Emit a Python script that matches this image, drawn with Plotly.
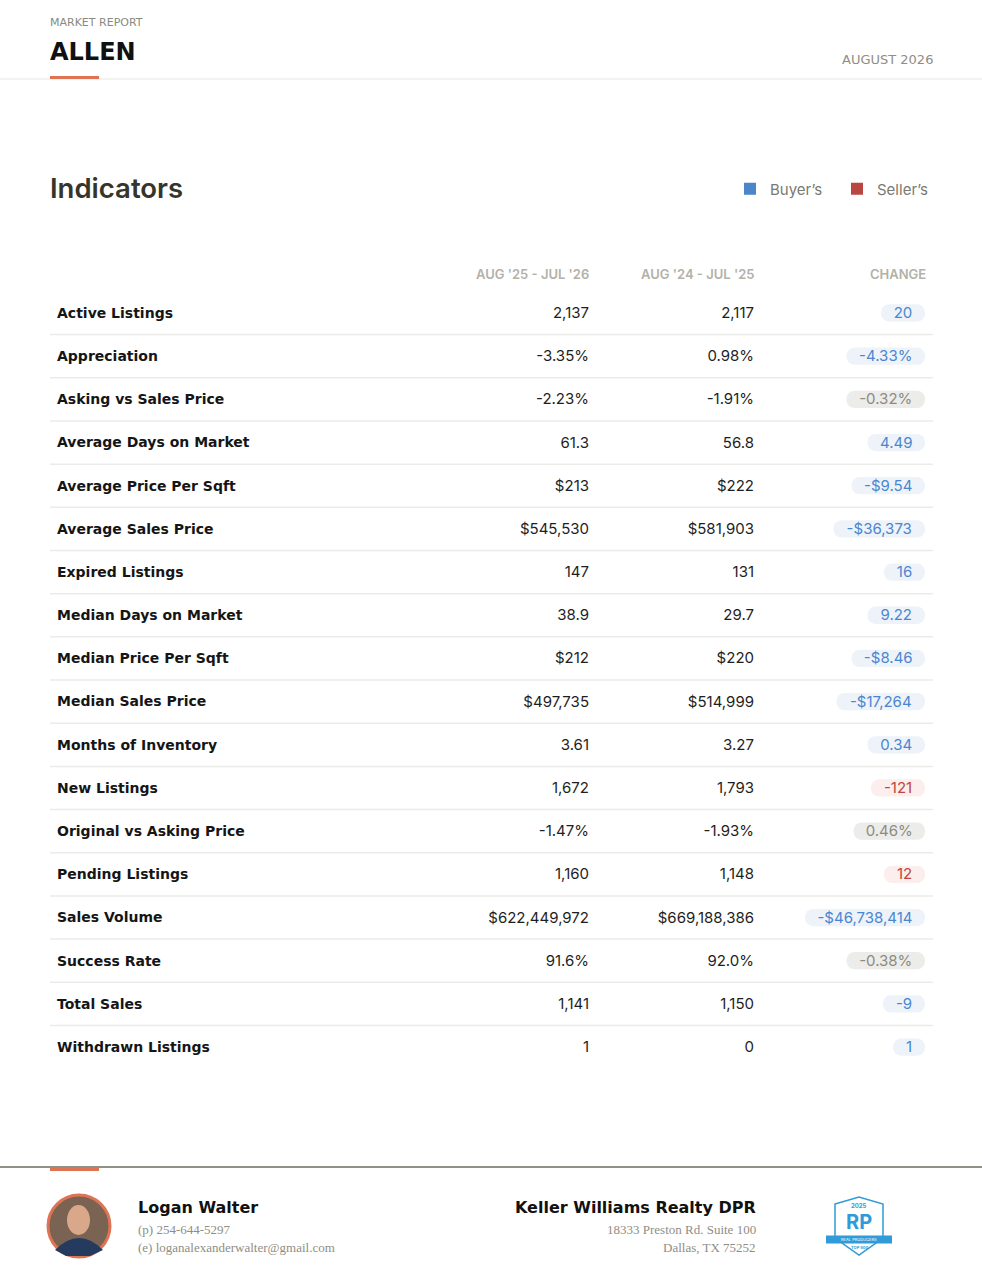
import plotly.graph_objects as go

# data
indicators = [
    "Active Listings", "Appreciation", "Asking vs Sales Price", "Average Days on Market",
    "Average Price Per Sqft", "Average Sales Price", "Expired Listings", "Median Days on Market",
    "Median Price Per Sqft", "Median Sales Price", "Months of Inventory", "New Listings",
    "Original vs Asking Price", "Pending Listings", "Sales Volume", "Success Rate",
    "Total Sales", "Withdrawn Listings",
]
current_period = ["2,137", "-3.35%", "-2.23%", "61.3", "$213", "$545,530", "147", "38.9", "$212",
                  "$497,735", "3.61", "1,672", "-1.47%", "1,160", "$622,449,972", "91.6%", "1,141", "1"]
prior_period = ["2,117", "0.98%", "-1.91%", "56.8", "$222", "$581,903", "131", "29.7", "$220",
                "$514,999", "3.27", "1,793", "-1.93%", "1,148", "$669,188,386", "92.0%", "1,150", "0"]
change = ["20", "-4.33%", "-0.32%", "4.49", "-$9.54", "-$36,373", "16", "9.22", "-$8.46",
          "-$17,264", "0.34", "-121", "0.46%", "12", "-$46,738,414", "-0.38%", "-9", "1"]
market = ["buyer", "buyer", "neutral", "buyer", "buyer", "buyer", "buyer", "buyer", "buyer",
          "buyer", "buyer", "seller", "neutral", "seller", "buyer", "neutral", "buyer", "buyer"]
column_titles = ["AUG '25 - JUL '26", "AUG '24 - JUL '25", "CHANGE"]

W, H = 982, 1268
ROW0, ROWH = 313, 43.18          # pixel centre of first row, row pitch
FONT = "Inter"
WIDE = "DejaVu Sans"
pill_bg = {"buyer": "#eef3fa", "seller": "#fbeeec", "neutral": "#ececea"}
pill_fg = {"buyer": "#4a86d0", "seller": "#c0463c", "neutral": "#8c8b80"}

# rough text width of the pill labels
cw = {"1": 6, "-": 7, "$": 9, ",": 4.5, ".": 4.5, "%": 14}
def text_w(s):
    return sum(cw.get(c, 9) for c in s)

pill_w = [text_w(c) + 26 for c in change]
pill_right = 925
rows = list(range(len(indicators)))


def px(x):
    return x / W


def py(y):
    return 1 - y / H


fig = go.Figure()

# row separators
sep_x, sep_y = [], []
for i in rows[:-1]:
    sep_x += [50, 933, None]
    sep_y += [i + 0.5, i + 0.5, None]
fig.add_trace(go.Scatter(x=sep_x, y=sep_y, mode="lines", line=dict(color="#ebebe7", width=1.5),
                         hoverinfo="skip", showlegend=False))

# change pills
fig.add_trace(go.Bar(
    y=rows, x=pill_w, base=[pill_right - w for w in pill_w], orientation="h", width=0.4,
    marker=dict(color=[pill_bg[m] for m in market], cornerradius="50%", line_width=0),
    hoverinfo="skip", showlegend=False,
))
fig.add_trace(go.Scatter(
    x=[pill_right - w / 2 for w in pill_w], y=[r + 0.03 for r in rows], mode="text", text=change,
    textposition="middle center",
    textfont=dict(family=FONT, size=15, color=[pill_fg[m] for m in market]),
    hoverinfo="skip", showlegend=False,
))

# labels and values
fig.add_trace(go.Scatter(
    x=[57] * len(rows), y=[r + 0.03 for r in rows], mode="text", text=indicators,
    textposition="middle right",
    textfont=dict(family=WIDE, size=14, color="#151515", weight="bold"),
    hoverinfo="skip", showlegend=False,
))
for col_x, vals in [(589, current_period), (754, prior_period)]:
    fig.add_trace(go.Scatter(
        x=[col_x] * len(rows), y=[r + 0.03 for r in rows], mode="text", text=vals,
        textposition="middle left",
        textfont=dict(family=FONT, size=15, color="#1e1e1e"),
        hoverinfo="skip", showlegend=False,
    ))

# legend entries
fig.add_trace(go.Scatter(x=[None], y=[None], mode="markers", name="Buyer’s",
                         marker=dict(symbol="square", size=16, color="#4a86c8")))
fig.add_trace(go.Scatter(x=[None], y=[None], mode="markers", name="Seller’s",
                         marker=dict(symbol="square", size=16, color="#b9473f")))

ann = []
def txt(x, y, s, size, color, anchor="left", family=FONT, weight="normal"):
    shift = {"left": -2, "right": 2, "center": 0}[anchor]
    ann.append(dict(x=px(x + shift), y=py(y), xref="paper", yref="paper", text=s, showarrow=False,
                    xanchor=anchor, yanchor="middle",
                    font=dict(family=family, size=size, color=color, weight=weight)))

# header
txt(50, 23, "MARKET REPORT", 11, "#8a8a80", family=WIDE)
txt(50, 52, "ALLEN", 24, "#111111", family=WIDE, weight="bold")
txt(933, 59, "AUGUST 2026", 13, "#8f8e84", anchor="right", family=WIDE)
txt(50, 188, "Indicators", 27.5, "#35352b", weight=600)
for x, s in zip([589, 754, 926], column_titles):
    txt(x, 274, s, 13, "#b3b1a8", anchor="right", weight=600)

# footer
SERIF = "Liberation Serif"
txt(138, 1207, "Logan Walter", 16, "#111111", family=WIDE, weight="bold")
txt(138, 1229, "(p) 254-644-5297", 13, "#8f8e84", family=SERIF)
txt(138, 1247, "(e) loganalexanderwalter@gmail.com", 13, "#8f8e84", family=SERIF)
txt(756, 1207, "Keller Williams Realty DPR", 16, "#111111", anchor="right", family=WIDE, weight="bold")
txt(756, 1229, "18333 Preston Rd. Suite 100", 13, "#8f8e84", anchor="right", family=SERIF)
txt(756, 1247, "Dallas, TX 75252", 13, "#8f8e84", anchor="right", family=SERIF)
txt(859, 1205, "2025", 6, "#2f9bd8", anchor="center", weight="bold")
txt(859, 1222, "RP", 20, "#2f9bd8", anchor="center", weight="bold")
txt(859, 1239.5, "REAL PRODUCERS", 4, "#ffffff", anchor="center")
txt(859, 1247.5, "TOP 500", 4, "#2f9bd8", anchor="center", weight="bold")

shapes = [
    dict(type="line", xref="paper", yref="paper", x0=0, x1=1, y0=py(79), y1=py(79),
         line=dict(color="#e6e6e4", width=1)),
    dict(type="rect", xref="paper", yref="paper", x0=px(50), x1=px(99), y0=py(79), y1=py(76),
         fillcolor="#de7453", line_width=0),
    dict(type="line", xref="paper", yref="paper", x0=0, x1=1, y0=py(1167), y1=py(1167),
         line=dict(color="#6b6b60", width=1.5)),
    dict(type="rect", xref="paper", yref="paper", x0=px(50), x1=px(99), y0=py(1171), y1=py(1168),
         fillcolor="#de7453", line_width=0),
    # photo placeholder
    dict(type="circle", xref="paper", yref="paper", x0=px(48), x1=px(110), y0=py(1257), y1=py(1195),
         fillcolor="#7a6352", line=dict(color="#de7453", width=3)),
    dict(type="circle", xref="paper", yref="paper", x0=px(67), x1=px(90), y0=py(1235), y1=py(1205),
         fillcolor="#d9a88a", line_width=0),
    dict(type="path", xref="paper", yref="paper",
         path=f"M {px(55)},{py(1250)} Q {px(79)},{py(1226)} {px(103)},{py(1250)} L {px(90)},{py(1256)} L {px(66)},{py(1256)} Z",
         fillcolor="#243a5e", line_width=0),
    # badge
    dict(type="path", xref="paper", yref="paper",
         path=(f"M {px(835)},{py(1204)} L {px(859)},{py(1197)} L {px(883)},{py(1204)} "
               f"L {px(883)},{py(1238)} L {px(859)},{py(1255)} L {px(835)},{py(1238)} Z"),
         fillcolor="#ffffff", line=dict(color="#2f9bd8", width=1.5)),
    dict(type="rect", xref="paper", yref="paper", x0=px(826), x1=px(892), y0=py(1243.5), y1=py(1235.5),
         fillcolor="#2f9bd8", line_width=0),
]

fig.update_layout(
    width=W, height=H, autosize=False,
    margin=dict(l=0, r=0, t=0, b=0, autoexpand=False),
    plot_bgcolor="white", paper_bgcolor="white",
    xaxis=dict(range=[0, W], visible=False, fixedrange=True),
    yaxis=dict(range=[(H - ROW0) / ROWH, -ROW0 / ROWH], visible=False, fixedrange=True),
    barmode="overlay",
    showlegend=True,
    legend=dict(orientation="h", x=px(730), xanchor="left", y=py(189), yanchor="middle",
                font=dict(family=FONT, size=15, color="#7a7a70"), itemsizing="constant",
                entrywidth=62, entrywidthmode="pixels", bgcolor="rgba(0,0,0,0)"),
    annotations=ann,
    shapes=shapes,
    font=dict(family=FONT),
)

fig.write_html("out.html", config={"displayModeBar": False},
               post_script="document.body.style.margin='0';")
